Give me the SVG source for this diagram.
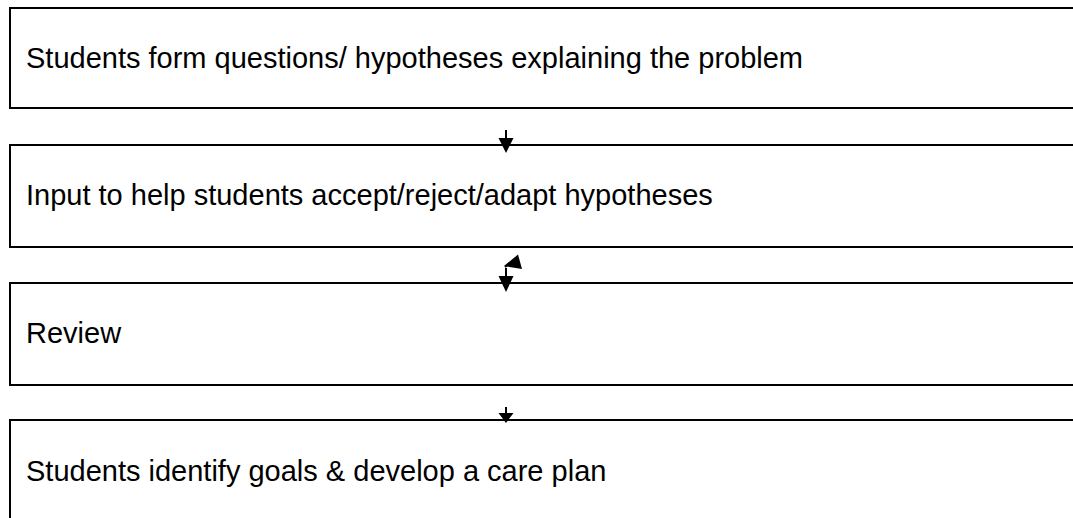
<svg xmlns="http://www.w3.org/2000/svg" width="1073" height="518" viewBox="0 0 1073 518">
<style>
.box{fill:#fff;stroke:#000;stroke-width:2}
.t{font-family:"Liberation Sans",Arial,sans-serif;font-size:29px;fill:#000}
.c{stroke:#000;stroke-width:2;fill:none}
.h{fill:#000;stroke:none}
</style>
<rect width="1073" height="518" fill="#fff"/>
<g id="n1"><rect class="box" x="10" y="8" width="1080" height="100"/><text class="t" x="26" y="68">Students form questions/ hypotheses explaining the problem</text></g>
<g id="n2"><rect class="box" x="10" y="145" width="1080" height="102"/><text class="t" x="26" y="205">Input to help students accept/reject/adapt hypotheses</text></g>
<g id="n3"><rect class="box" x="10" y="283" width="1080" height="102"/><text class="t" x="26" y="343">Review</text></g>
<g id="n4"><rect class="box" x="10" y="420" width="1080" height="110"/><text class="t" x="26" y="481">Students identify goals &amp; develop a care plan</text></g>
<g id="connectors">
<line class="c" x1="506" y1="130" x2="506" y2="139"/>
<polygon class="h" points="498.5,138 513.5,138 506,153"/>
<line class="c" x1="506" y1="268" x2="506" y2="277"/>
<polygon class="h" points="498.5,276 513.5,276 506,292"/>
<line class="c" x1="505" y1="267" x2="510" y2="263"/>
<polygon class="h" points="504,266 518,254.5 522,269"/>
<line class="c" x1="506" y1="407" x2="506" y2="414"/>
<polygon class="h" points="498.5,413 513.5,413 506,423"/>
</g>
</svg>
